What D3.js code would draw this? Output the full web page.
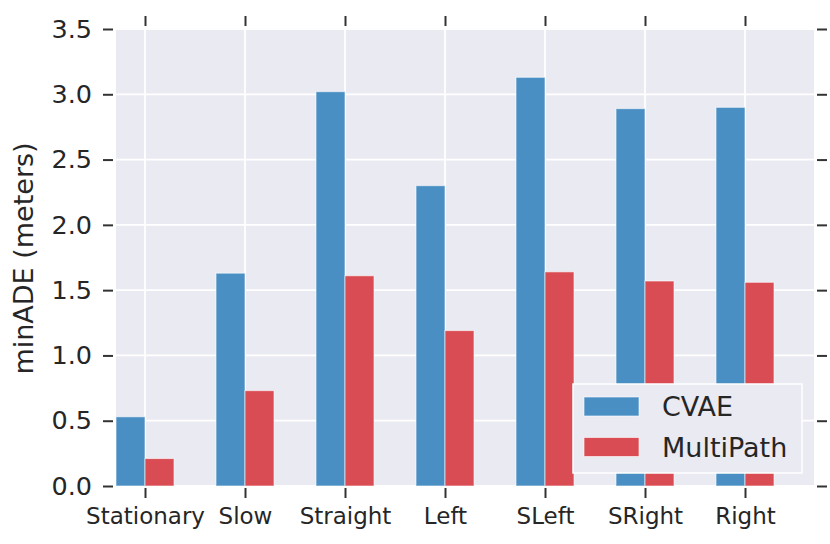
<!DOCTYPE html>
<html>
<head>
<meta charset="utf-8">
<script src="https://cdn.jsdelivr.net/npm/d3@7"></script>
<style>
	body { margin: 0; background: #fff; }
	svg { display: block; }
	svg text { font-family: "DejaVu Sans", sans-serif; }
	.tick line { stroke: #333; stroke-width: 2; }
	.tick text { fill: #262626; }
</style>
</head>
<body>
<svg id="chart" width="830" height="544"></svg>
<script>
const categories = ["Stationary", "Slow", "Straight", "Left", "SLeft", "SRight", "Right"]
const seriesNames = ["CVAE", "MultiPath"]
const cvae = [0.53, 1.63, 3.02, 2.30, 3.13, 2.89, 2.90]
const multiPath = [0.21, 0.73, 1.61, 1.19, 1.64, 1.57, 1.56]
const yTicks = [0.0, 0.5, 1.0, 1.5, 2.0, 2.5, 3.0, 3.5]

const colors = ["#4a8fc3", "#d94c53"]
const series = [cvae, multiPath]

const plot = { left: 116, right: 814, top: 29, bottom: 486 }
const barWidth = 0.29
const fontFamily = "DejaVu Sans"

const svg = d3.select("#chart")

const x = d3.scaleLinear().domain([-0.29, 6.69]).range([plot.left, plot.right])
const y = d3.scaleLinear().domain([0, 3.5]).range([plot.bottom, plot.top])
const idx = categories.map((_, i) => i)

// background
svg.append("rect")
	.attr("x", plot.left)
	.attr("y", plot.top)
	.attr("width", plot.right - plot.left)
	.attr("height", plot.bottom - plot.top)
	.attr("fill", "#eaeaf2")

// grid
const grid = svg.append("g")
grid.selectAll(".hgrid")
	.data(yTicks)
	.join("line")
	.attr("x1", plot.left).attr("x2", plot.right)
	.attr("y1", d => y(d)).attr("y2", d => y(d))
	.attr("stroke", "#fff").attr("stroke-width", 1.8)
grid.selectAll(".vgrid")
	.data(idx)
	.join("line")
	.attr("y1", plot.top).attr("y2", plot.bottom)
	.attr("x1", d => x(d)).attr("x2", d => x(d))
	.attr("stroke", "#fff").attr("stroke-width", 1.8)

// bars
series.forEach((values, s) => {
	svg.append("g")
		.selectAll("rect")
		.data(values)
		.join("rect")
		.attr("x", (d, i) => x(i + (s - 1) * barWidth))
		.attr("width", x(barWidth) - x(0))
		.attr("y", d => y(d))
		.attr("height", d => y(0) - y(d))
		.attr("fill", colors[s])
		.attr("stroke", "rgba(255,255,255,0.6)")
		.attr("stroke-width", 1)
})

// axes
svg.append("g")
	.attr("transform", `translate(${plot.left - 3},0)`)
	.call(d3.axisLeft(y).tickValues(yTicks).tickFormat(d3.format(".1f")).tickSize(10).tickPadding(11))
	.attr("font-family", fontFamily)
	.attr("font-size", 25.5)

svg.append("g")
	.attr("transform", `translate(${plot.right + 3},0)`)
	.call(d3.axisRight(y).tickValues(yTicks).tickFormat("").tickSize(10))

svg.append("g")
	.attr("transform", `translate(0,${plot.bottom + 2})`)
	.call(d3.axisBottom(x).tickValues(idx).tickFormat(i => categories[i]).tickSize(10).tickPadding(10))
	.attr("font-family", fontFamily)
	.attr("font-size", 23)

svg.append("g")
	.attr("transform", `translate(0,${plot.top - 3})`)
	.call(d3.axisTop(x).tickValues(idx).tickFormat("").tickSize(10))

svg.selectAll(".domain").remove()

// y label
svg.append("text")
	.attr("transform", `translate(33,${(plot.top + plot.bottom) / 2 + 1}) rotate(-90)`)
	.attr("text-anchor", "middle")
	.attr("font-family", fontFamily)
	.attr("font-size", 27)
	.attr("fill", "#262626")
	.text("minADE (meters)")

// legend
const legend = svg.append("g").attr("transform", "translate(573,384)")
legend.append("rect")
	.attr("width", 229).attr("height", 89)
	.attr("fill", "#eaeaf2")
	.attr("stroke", "#fff").attr("stroke-width", 1.5)
const items = legend.selectAll(".item")
	.data(seriesNames)
	.join("g")
	.attr("transform", (d, i) => `translate(11,${13 + i * 40.5})`)
items.append("rect")
	.attr("width", 55).attr("height", 19)
	.attr("fill", (d, i) => colors[i])
	.attr("stroke", "rgba(255,255,255,0.6)")
items.append("text")
	.attr("x", 78).attr("y", 19)
	.attr("font-family", fontFamily)
	.attr("font-size", 27)
	.attr("fill", "#262626")
	.text(d => d)
</script>
</body>
</html>
